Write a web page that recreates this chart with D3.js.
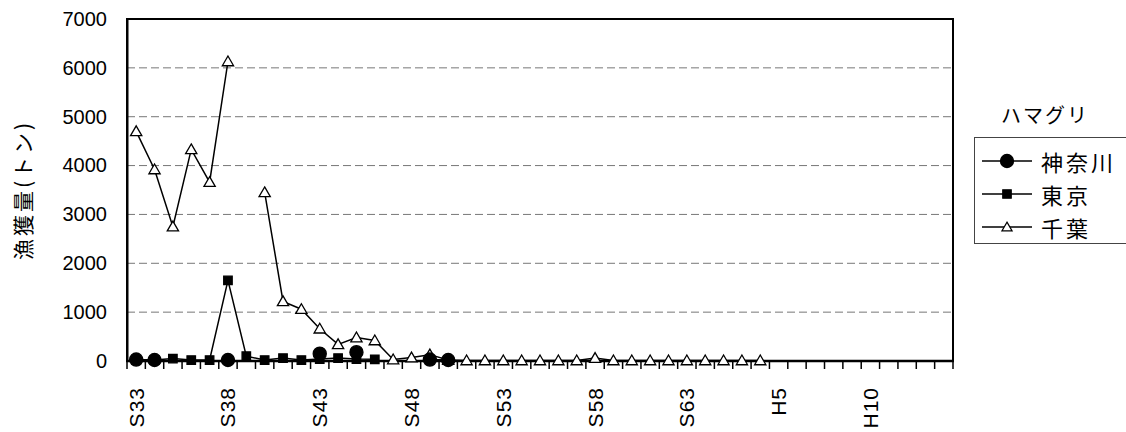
<!DOCTYPE html>
<html>
<head>
<meta charset="utf-8">
<script src="https://cdn.jsdelivr.net/npm/d3@7"></script>
<style>
  body { margin: 0; background: #fff; }
</style>
</head>
<body>
<div id="chart"></div>
<script>
// data
const years = [
  'S33', 'S34', 'S35', 'S36', 'S37', 'S38', 'S39', 'S40', 'S41', 'S42',
  'S43', 'S44', 'S45', 'S46', 'S47', 'S48', 'S49', 'S50', 'S51', 'S52',
  'S53', 'S54', 'S55', 'S56', 'S57', 'S58', 'S59', 'S60', 'S61', 'S62',
  'S63', 'H1', 'H2', 'H3', 'H4', 'H5', 'H6', 'H7', 'H8', 'H9',
  'H10', 'H11', 'H12', 'H13', 'H14'
];
const tickLabels = ['S33', 'S38', 'S43', 'S48', 'S53', 'S58', 'S63', 'H5', 'H10'];
const yTicks = [0, 1000, 2000, 3000, 4000, 5000, 6000, 7000];

const kanagawa = [
  30, 20, null, null, null, 20, null, null, null, null,
  150, null, 180, null, null, null, 30, 20
];
const tokyo = [30, 20, 50, 20, 20, 1650, 100, 20, 60, 20, 40, 60, 40, 35];
const chiba = [
  4700, 3920, 2750, 4330, 3660, 6130, null, 3450, 1220, 1060,
  660, 340, 480, 420, 30, 70, 130, 20, 10, 10,
  10, 10, 10, 10, 10, 60, 10, 10, 10, 10,
  10, 10, 10, 10, 10
];

const seriesNames = ['神奈川', '東京', '千葉'];
const legendTitle = 'ハマグリ';
const yTitle = '漁獲量(トン)';

// painter
const Painter = {};

Painter.option = {
  width: 1126,
  height: 432,
  margin: {top: 19, right: 173, bottom: 71, left: 127}
};

Painter.painting = (container) => {
  const option = Painter.option;
  const svg = d3.select(container)
      .append('svg')
      .attr('width', option.width)
      .attr('height', option.height);

  const left = option.margin.left;
  const right = option.width - option.margin.right;
  const top = option.margin.top;
  const bottom = option.height - option.margin.bottom;

  const x = d3.scaleBand().domain(years).range([left, right]).padding(0);
  const cx = (i) => x(years[i]) + x.bandwidth() / 2;
  const y = d3.scaleLinear().domain([0, 7000]).range([bottom, top]);

  // grid
  svg.append('g')
      .selectAll('line')
      .data(yTicks.filter((d) => d > 0 && d < 7000))
      .join('line')
      .attr('x1', left).attr('x2', right)
      .attr('y1', (d) => y(d)).attr('y2', (d) => y(d))
      .attr('stroke', '#777')
      .attr('stroke-width', 1)
      .attr('stroke-dasharray', '8,4');

  // frame
  svg.append('rect')
      .attr('x', left).attr('y', top)
      .attr('width', right - left).attr('height', bottom - top)
      .attr('fill', 'none')
      .attr('stroke', '#000')
      .attr('stroke-width', 2);

  // y axis
  const yAxis = d3.axisLeft(y)
      .tickValues(yTicks)
      .tickFormat(d3.format('d'))
      .tickSize(0)
      .tickPadding(20);
  const gy = svg.append('g')
      .attr('transform', `translate(${left},0)`)
      .call(yAxis);
  gy.select('.domain').attr('stroke', '#000').attr('stroke-width', 2);
  gy.selectAll('text')
      .attr('font-family', 'Liberation Sans, Arial, sans-serif')
      .attr('font-size', 20)
      .attr('fill', '#000');

  // x axis, ticks at category edges
  const edges = d3.range(years.length + 1).map((i) =>
    i < years.length ? x(years[i]) : right);
  svg.append('g')
      .selectAll('line')
      .data(edges)
      .join('line')
      .attr('x1', (d) => d).attr('x2', (d) => d)
      .attr('y1', bottom).attr('y2', bottom + 8)
      .attr('stroke', '#000')
      .attr('stroke-width', 1.5);
  svg.append('line')
      .attr('x1', left - 1).attr('x2', right + 1)
      .attr('y1', bottom).attr('y2', bottom)
      .attr('stroke', '#000')
      .attr('stroke-width', 2.5);

  svg.append('g')
      .selectAll('text')
      .data(tickLabels)
      .join('text')
      .attr('transform', (d) =>
        `translate(${x(d) + x.bandwidth() / 2},${bottom + 26}) rotate(-90)`)
      .attr('text-anchor', 'end')
      .attr('dominant-baseline', 'central')
      .attr('font-family', 'Liberation Sans, Arial, sans-serif')
      .attr('font-size', 21)
      .attr('letter-spacing', 1)
      .attr('fill', '#000')
      .text((d) => d);

  // y title
  svg.append('text')
      .attr('transform', 'translate(22,190) rotate(-90)')
      .attr('text-anchor', 'middle')
      .attr('dominant-baseline', 'central')
      .attr('font-family', 'Noto Sans CJK JP, sans-serif')
      .attr('font-size', 21)
      .attr('letter-spacing', 3)
      .attr('fill', '#000')
      .text(yTitle);

  // series
  const line = d3.line()
      .defined((d) => d != null)
      .x((d, i) => cx(i))
      .y((d) => y(d));

  const tri = d3.symbol().type(d3.symbolTriangle).size(55);
  const sq = d3.symbol().type(d3.symbolSquare).size(72);
  const circ = d3.symbol().type(d3.symbolCircle).size(135);

  const drawSeries = (values, symbol, fill) => {
    svg.append('path')
        .datum(values)
        .attr('fill', 'none')
        .attr('stroke', '#000')
        .attr('stroke-width', 1.5)
        .attr('d', line);
    svg.append('g')
        .selectAll('path')
        .data(values.map((v, i) => ({v, i})).filter((d) => d.v != null))
        .join('path')
        .attr('transform', (d) => `translate(${cx(d.i)},${y(d.v) + (symbol === tri ? 1 : 0)})`)
        .attr('d', symbol)
        .attr('fill', fill)
        .attr('stroke', '#000')
        .attr('stroke-width', 1.3);
  };

  drawSeries(chiba, tri, '#fff');
  drawSeries(tokyo, sq, '#000');
  drawSeries(kanagawa, circ, '#000');

  // legend
  svg.append('text')
      .attr('x', 1045).attr('y', 114)
      .attr('text-anchor', 'middle')
      .attr('dominant-baseline', 'central')
      .attr('font-family', 'Noto Sans CJK JP, sans-serif')
      .attr('font-size', 20)
      .attr('letter-spacing', 2)
      .attr('fill', '#000')
      .text(legendTitle);

  svg.append('rect')
      .attr('x', 974.5).attr('y', 137.5)
      .attr('width', 160).attr('height', 106)
      .attr('fill', '#fff')
      .attr('stroke', '#444')
      .attr('stroke-width', 1);

  const symbols = [circ, sq, d3.symbol().type(d3.symbolTriangle).size(45)];
  const fills = ['#000', '#000', '#fff'];
  const rowY = [161, 194, 227];
  const legend = svg.append('g')
      .selectAll('g')
      .data(seriesNames)
      .join('g')
      .attr('transform', (d, i) => `translate(0,${rowY[i]})`);
  legend.append('line')
      .attr('x1', 982).attr('x2', 1032)
      .attr('y1', 0).attr('y2', 0)
      .attr('stroke', '#000')
      .attr('stroke-width', 1.5);
  legend.append('path')
      .attr('transform', (d, i) => `translate(1007,${i === 2 ? 1 : 0})`)
      .attr('d', (d, i) => symbols[i]())
      .attr('fill', (d, i) => fills[i])
      .attr('stroke', '#000')
      .attr('stroke-width', 1.2);
  legend.append('text')
      .attr('x', 1041).attr('y', 0)
      .attr('dominant-baseline', 'central')
      .attr('font-family', 'Noto Sans CJK JP, sans-serif')
      .attr('font-size', 22)
      .attr('letter-spacing', 3)
      .attr('fill', '#000')
      .text((d) => d);
};

Painter.painting(document.getElementById('chart'));
</script>
</body>
</html>
